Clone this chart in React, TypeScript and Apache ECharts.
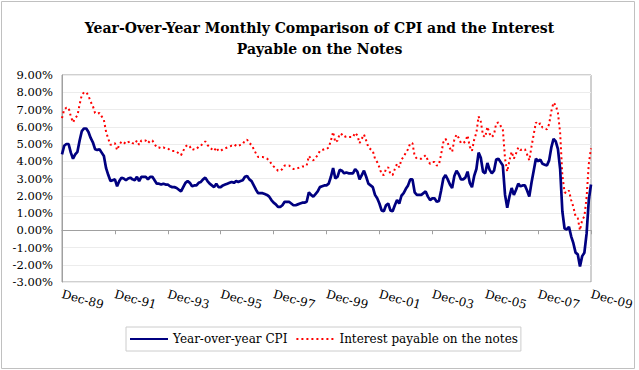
import React, { useEffect, useRef } from 'react';
import * as echarts from 'echarts';

const MONTH_NAMES = ['Jan', 'Feb', 'Mar', 'Apr', 'May', 'Jun', 'Jul', 'Aug', 'Sep', 'Oct', 'Nov', 'Dec'];

// Monthly categories from Dec-89 to Dec-09
const categories: string[] = ['Dec-89'];
for (let y = 1990; y <= 2009; y++) {
  for (let m = 0; m < 12; m++) {
    categories.push(MONTH_NAMES[m] + '-' + String(y % 100).padStart(2, '0'));
  }
}

// Year-over-year CPI (%), Dec-89 .. Dec-09
const cpi: number[] = [
  4.4,
  4.9, 5.0, 5.0, 4.5, 4.15, 4.4, 4.55, 5.2, 5.75, 5.9, 5.9, 5.7,
  5.35, 5.1, 4.7, 4.65, 4.7, 4.5, 4.3, 3.6, 3.2, 2.85, 2.9, 2.95,
  2.55, 2.85, 3.05, 3.0, 2.9, 3.0, 3.05, 2.95, 2.9, 3.1, 2.85, 3.1,
  3.1, 3.1, 2.95, 3.1, 3.1, 2.9, 2.7, 2.7, 2.65, 2.7, 2.65, 2.65,
  2.55, 2.5, 2.5, 2.45, 2.35, 2.25, 2.5, 2.75, 2.85, 2.75, 2.55, 2.6,
  2.6, 2.75, 2.8, 2.95, 3.05, 2.85, 2.7, 2.6, 2.5, 2.7, 2.5, 2.5,
  2.6, 2.65, 2.7, 2.75, 2.8, 2.75, 2.85, 2.8, 2.85, 2.9, 3.1, 3.15,
  2.95, 2.85, 2.6, 2.35, 2.15, 2.15, 2.15, 2.1, 2.05, 1.95, 1.75, 1.6,
  1.5, 1.35, 1.35, 1.45, 1.65, 1.65, 1.65, 1.55, 1.45, 1.45, 1.5, 1.55,
  1.6, 1.6, 1.65, 2.2, 2.05, 1.95, 2.1, 2.25, 2.5, 2.55, 2.6, 2.6,
  2.7, 3.1, 3.6, 3.0, 3.1, 3.5, 3.45, 3.3, 3.35, 3.3, 3.3, 3.3,
  3.55, 3.4, 2.95, 3.2, 3.45, 3.1, 2.7, 2.6, 2.5, 2.05, 1.85, 1.55,
  1.15, 1.1, 1.45, 1.55, 1.15, 1.1, 1.45, 1.75, 1.55, 2.0, 2.15, 2.4,
  2.6, 2.95, 2.95, 2.2, 2.05, 2.05, 2.05, 2.15, 2.25, 1.95, 1.75, 1.85,
  1.85, 1.65, 1.7, 2.3, 3.0, 3.2, 2.95, 2.65, 2.45, 3.15, 3.45, 3.25,
  2.95, 2.95, 3.05, 3.4, 2.75, 2.5, 3.15, 3.55, 4.5, 4.2, 3.4, 3.3,
  3.9, 3.5, 3.3, 3.45, 4.1, 4.15, 3.95, 3.75, 2.05, 1.3, 1.95, 2.45,
  2.05, 2.35, 2.7, 2.55, 2.6, 2.6, 2.3, 1.95, 2.75, 3.45, 4.15, 4.0,
  4.1, 3.85, 3.8, 3.75, 4.05, 4.8, 5.3, 5.15, 4.7, 3.55, 1.1, 0.1,
  0.05, 0.2, -0.35, -0.75, -1.3, -1.4, -2.1, -1.5, -1.3, -0.2, 1.75, 2.65,
];

// Interest payable on the notes (%), Dec-89 .. Dec-09
const interest: number[] = [
  6.5,
  7.0, 7.1, 7.1, 6.6, 6.25, 6.5, 6.65, 7.3, 7.85, 8.0, 8.0, 7.8,
  7.45, 7.2, 6.8, 6.75, 6.8, 6.6, 6.4, 5.7, 5.3, 4.95, 5.0, 5.05,
  4.65, 4.95, 5.15, 5.1, 5.0, 5.1, 5.15, 5.05, 5.0, 5.2, 4.95, 5.2,
  5.2, 5.2, 5.05, 5.2, 5.2, 5.0, 4.8, 4.8, 4.75, 4.8, 4.75, 4.75,
  4.65, 4.6, 4.6, 4.55, 4.45, 4.35, 4.6, 4.85, 4.95, 4.85, 4.65, 4.7,
  4.7, 4.85, 4.9, 5.05, 5.15, 4.95, 4.8, 4.7, 4.6, 4.8, 4.6, 4.6,
  4.7, 4.75, 4.8, 4.85, 4.9, 4.85, 4.95, 4.9, 4.95, 5.0, 5.2, 5.25,
  5.05, 4.95, 4.7, 4.45, 4.25, 4.25, 4.25, 4.2, 4.15, 4.05, 3.85, 3.7,
  3.6, 3.45, 3.45, 3.55, 3.75, 3.75, 3.75, 3.65, 3.55, 3.55, 3.6, 3.65,
  3.7, 3.7, 3.75, 4.3, 4.15, 4.05, 4.2, 4.35, 4.6, 4.65, 4.7, 4.7,
  4.8, 5.2, 5.7, 5.1, 5.2, 5.6, 5.55, 5.4, 5.45, 5.4, 5.4, 5.4,
  5.65, 5.5, 5.05, 5.3, 5.55, 5.2, 4.8, 4.7, 4.6, 4.15, 3.95, 3.65,
  3.25, 3.2, 3.55, 3.65, 3.25, 3.2, 3.55, 3.85, 3.65, 4.1, 4.25, 4.5,
  4.7, 5.05, 5.05, 4.3, 4.15, 4.15, 4.15, 4.25, 4.35, 4.05, 3.85, 3.95,
  3.95, 3.75, 3.8, 4.4, 5.1, 5.3, 5.05, 4.75, 4.55, 5.25, 5.55, 5.35,
  5.05, 5.05, 5.15, 5.5, 4.85, 4.6, 5.25, 5.65, 6.6, 6.3, 5.5, 5.4,
  6.0, 5.6, 5.4, 5.55, 6.2, 6.25, 6.05, 5.85, 4.15, 3.4, 4.05, 4.55,
  4.15, 4.45, 4.8, 4.65, 4.7, 4.7, 4.4, 4.05, 4.85, 5.55, 6.25, 6.1,
  6.2, 5.95, 5.9, 5.85, 6.15, 6.9, 7.4, 7.25, 6.8, 5.65, 3.2, 2.2,
  2.15, 2.3, 1.75, 1.35, 0.8, 0.7, 0.0, 0.6, 0.8, 1.9, 3.85, 4.75,
];

const SERIES_NAMES = ['Year-over-year CPI', 'Interest payable on the notes'];
const TITLE = 'Year-Over-Year Monthly Comparison of CPI and the Interest\nPayable on the Notes';
const FONT = 'DejaVu Serif';

export default function App() {
  const ref = useRef<HTMLDivElement>(null);
  useEffect(() => {
    if (!ref.current) return;
    const chart = echarts.init(ref.current, undefined, { renderer: 'svg' });
    chart.setOption({
      animation: false,
      backgroundColor: '#ffffff',
      title: {
        text: TITLE,
        left: 'center',
        top: 12,
        textStyle: { fontFamily: FONT, fontWeight: 'bold', fontSize: 14, lineHeight: 21, color: '#000' },
      },
      legend: {
        left: 126,
        top: 327,
        itemWidth: 38,
        itemHeight: 10,
        itemGap: 8,
        borderColor: '#cccccc',
        borderWidth: 1,
        padding: [6, 3, 6, 3],
        itemStyle: { color: 'transparent', borderColor: 'transparent', borderWidth: 0, opacity: 0 },
        textStyle: { fontFamily: FONT, fontSize: 12, color: '#000' },
        data: SERIES_NAMES,
      },
      grid: {
        left: 62,
        right: 48,
        top: 75,
        bottom: 88,
        show: true,
        borderColor: '#a0a0a0',
        borderWidth: 1,
      },
      xAxis: [
        {
          type: 'category',
          data: categories,
          boundaryGap: false,
          position: 'bottom',
          axisLine: { show: false, onZero: false },
          axisTick: { show: false },
          axisLabel: {
            interval: 23,
            rotate: -15,
            margin: 12,
            fontFamily: FONT,
            fontSize: 12,
            color: '#000',
          },
          splitLine: { show: false },
        },
        {
          type: 'category',
          data: categories,
          boundaryGap: false,
          position: 'top',
          axisLine: { show: true, onZero: true, lineStyle: { color: '#a0a0a0', width: 1 } },
          axisTick: { show: true, interval: 23, inside: true, length: 4, lineStyle: { color: '#a0a0a0' } },
          axisLabel: { show: false },
          splitLine: { show: false },
        },
      ],
      yAxis: {
        type: 'value',
        min: -3,
        max: 9,
        interval: 1,
        axisLine: { show: true, lineStyle: { color: '#a0a0a0' } },
        axisTick: { show: false },
        axisLabel: {
          formatter: (v: number) => v.toFixed(2) + '%',
          fontFamily: FONT,
          fontSize: 11.5,
          color: '#000',
          margin: 9,
        },
        splitLine: { show: true, lineStyle: { color: '#ececec', width: 1 } },
      },
      series: [
        {
          name: SERIES_NAMES[0],
          type: 'line',
          data: cpi,
          xAxisIndex: 0,
          symbol: 'none',
          lineStyle: { color: '#000080', width: 2.7 },
          itemStyle: { color: '#000080' },
          z: 3,
        },
        {
          name: SERIES_NAMES[1],
          type: 'line',
          data: interest,
          xAxisIndex: 0,
          symbol: 'none',
          lineStyle: { color: '#ff0000', width: 2, type: [2, 3] },
          itemStyle: { color: '#ff0000' },
          z: 2,
        },
      ],
      graphic: [
        {
          type: 'rect',
          shape: { x: 1.5, y: 1.5, width: 633, height: 367 },
          style: { fill: 'none', stroke: '#c0c0c0', lineWidth: 1 },
          silent: true,
        },
      ],
    });
    return () => chart.dispose();
  }, []);
  return <div ref={ref} style={{ position: 'fixed', left: 0, top: 0, width: 639, height: 370 }} />;
}
